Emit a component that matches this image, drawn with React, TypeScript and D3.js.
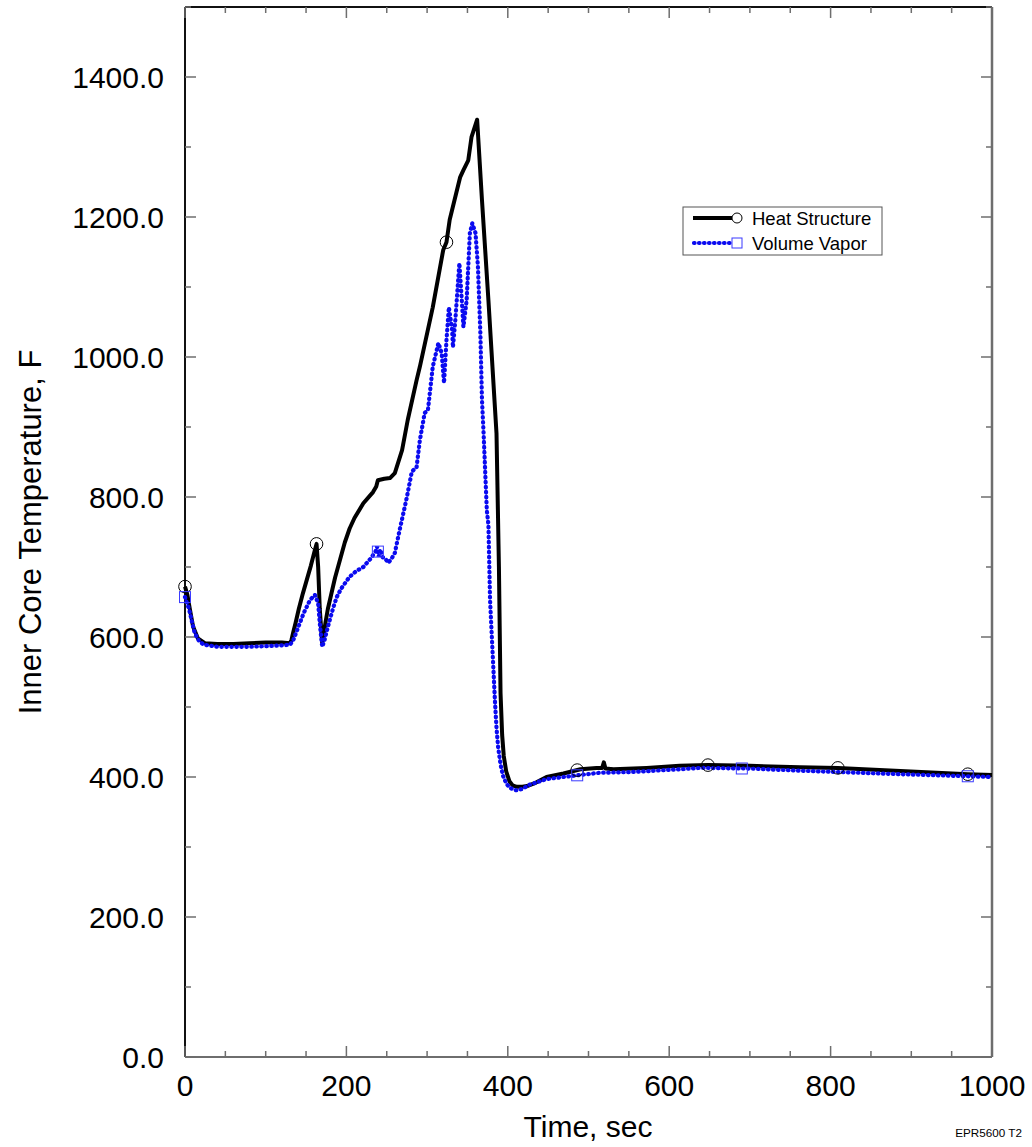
import React from "react";
import * as d3 from "d3";

// ---- Data ----
const heatTime = [0, 3, 6, 10, 16, 25, 40, 60, 80, 100, 120, 130, 132, 134, 137, 141, 146, 151, 156, 160, 163, 165, 167, 170, 172, 174, 177, 181, 186, 192, 198, 204, 210, 221, 233, 237, 239, 247, 254, 260, 269, 276, 287, 291, 307, 320, 324, 328, 341, 345, 351, 355, 362, 368, 376, 386, 389, 391, 393, 395, 398, 402, 406, 411, 418, 424, 435, 448, 469, 490, 510, 517, 519, 521, 531, 572, 613, 648, 700, 762, 809, 880, 970, 1000];
const heatTemp = [672, 660, 640, 615, 598, 591, 590, 590, 591, 592, 592, 591, 596, 606, 620, 640, 662, 682, 702, 720, 733, 700, 640, 591, 605, 620, 640, 660, 685, 710, 735, 755, 770, 791, 807, 815, 824, 826, 827, 834, 867, 910, 967, 986, 1071, 1153, 1164, 1196, 1257, 1267, 1281, 1314, 1339, 1224, 1081, 891, 700, 520, 460, 430, 408, 394, 388, 386, 386, 387, 392, 400, 405, 411, 413, 413, 421, 412, 411, 413, 416, 417, 416, 414, 413, 409, 404, 403];

const vaporTime = [0, 5, 9, 12, 17, 23, 40, 60, 80, 100, 120, 130, 134, 139, 147, 155, 161, 165, 167, 170, 173, 176, 180, 184, 188, 194, 204, 212, 221, 230, 236, 238, 240, 242, 245, 248, 252, 256, 260, 266, 275, 281, 287, 291, 297, 301, 307, 314, 318, 321, 324, 327, 331, 332, 335, 340, 343, 345, 349, 353, 356, 360, 363, 366, 368, 370, 374, 376, 378, 384, 386, 388, 391, 394, 398, 402, 407, 411, 418, 427, 448, 469, 490, 514, 551, 613, 638, 700, 762, 886, 1000];
const vaporTemp = [657, 640, 620, 606, 595, 589, 586, 586, 586, 587, 588, 589, 595, 610, 634, 653, 660, 648, 620, 586, 596, 610, 627, 643, 657, 670, 686, 694, 700, 712, 722, 729, 715, 725, 714, 712, 706, 712, 720, 753, 800, 836, 843, 881, 920, 924, 986, 1020, 1006, 963, 1024, 1071, 1039, 1014, 1053, 1134, 1081, 1043, 1081, 1177, 1191, 1177, 1129, 1034, 939, 891, 781, 760, 653, 510, 470, 443, 418, 402, 391, 385, 382, 381, 383, 389, 397, 400, 403, 406, 407, 411, 413, 412, 409, 404, 400];

const heatMarkerTimes = [0, 163, 324, 486, 648, 809, 970];
const vaporMarkerTimes = [0, 239, 486, 690, 970];

const xTickValues = [0, 200, 400, 600, 800, 1000];
const yTickValues = [0, 200, 400, 600, 800, 1000, 1200, 1400];
const xMinorTicks = d3.range(0, 1001, 50);
const yMinorTicks = d3.range(0, 1501, 100);

const seriesNames = ["Heat Structure", "Volume Vapor"];
const xTitle = "Time, sec";
const yTitle = "Inner Core Temperature, F";
const stamp = "EPR5600 T2";

const W = 1032;
const H = 1147;
const M = { left: 185, right: 992, top: 7, bottom: 1057 };
const FONT = "'Liberation Sans', Arial, Helvetica, sans-serif";

function interp(ts: number[], vs: number[], t: number) {
  const i = d3.bisectRight(ts, t);
  if (i <= 0) return vs[0];
  if (i >= ts.length) return vs[vs.length - 1];
  const t0 = ts[i - 1], t1 = ts[i];
  const f = (t - t0) / (t1 - t0);
  return vs[i - 1] + f * (vs[i] - vs[i - 1]);
}

export default function App() {
  const x = d3.scaleLinear().domain([0, 1000]).range([M.left, M.right]);
  const y = d3.scaleLinear().domain([0, 1500]).range([M.bottom, M.top]);

  const line = d3
    .line<[number, number]>()
    .x((d) => x(d[0]))
    .y((d) => y(d[1]));

  const heatPts: [number, number][] = heatTime.map((t, i) => [t, heatTemp[i]]);
  const vaporPts: [number, number][] = vaporTime.map((t, i) => [t, vaporTemp[i]]);

  const blue = "#0a0af0";
  const axisGray = "#6e6e6e";
  const dash = "0.6 4.4";

  return (
    <svg
      width={W}
      height={H}
      style={{ position: "absolute", left: 0, top: 0, background: "#fff" }}
      fontFamily={FONT}
    >
      <rect x={0} y={0} width={W} height={H} fill="#fff" />
      {/* axes frame */}
      <line x1={M.left} x2={M.right} y1={M.bottom} y2={M.bottom} stroke={axisGray} strokeWidth={2} />
      <line x1={M.right} x2={M.right} y1={M.top} y2={M.bottom} stroke={axisGray} strokeWidth={2.5} />
      <line x1={M.left} x2={M.right} y1={M.top} y2={M.top} stroke="#111" strokeWidth={2} />
      <line x1={M.left} x2={M.left} y1={M.top} y2={M.bottom} stroke="#111" strokeWidth={2} />

      {/* x ticks */}
      {xMinorTicks.map((t) => {
        const major = t % 200 === 0;
        const len = major ? 11 : 6;
        return (
          <g key={"xt" + t}>
            <line x1={x(t)} x2={x(t)} y1={M.bottom} y2={M.bottom - len} stroke={axisGray} strokeWidth={1.5} />
            <line x1={x(t)} x2={x(t)} y1={M.top} y2={M.top + len} stroke={axisGray} strokeWidth={1.5} />
          </g>
        );
      })}
      {/* y ticks */}
      {yMinorTicks.map((v) => {
        const major = v % 200 === 0;
        const len = major ? 11 : 6;
        return (
          <g key={"yt" + v}>
            <line x1={M.left} x2={M.left + len} y1={y(v)} y2={y(v)} stroke={axisGray} strokeWidth={1.5} />
            <line x1={M.right} x2={M.right - len} y1={y(v)} y2={y(v)} stroke={axisGray} strokeWidth={1.5} />
          </g>
        );
      })}

      {/* tick labels */}
      {xTickValues.map((t) => (
        <text key={"xl" + t} x={x(t)} y={1096} textAnchor="middle" fontSize={30} fill="#000">
          {String(t)}
        </text>
      ))}
      {yTickValues.map((v) => (
        <text key={"yl" + v} x={164} y={y(v) + 10.7} textAnchor="end" fontSize={30} fill="#000">
          {v.toFixed(1)}
        </text>
      ))}

      {/* titles */}
      <text x={588} y={1137} textAnchor="middle" fontSize={30} fill="#000">
        {xTitle}
      </text>
      <text
        transform={`translate(41,532) rotate(-90)`}
        textAnchor="middle"
        fontSize={31}
        fill="#000"
      >
        {yTitle}
      </text>
      <text x={1022} y={1137} textAnchor="end" fontSize={11.7} fill="#000">
        {stamp}
      </text>

      {/* series */}
      <path d={line(heatPts) || ""} fill="none" stroke="#000" strokeWidth={4} strokeLinejoin="round" />
      <path
        d={line(vaporPts) || ""}
        fill="none"
        stroke={blue}
        strokeWidth={4.2}
        strokeLinecap="round"
        strokeDasharray={dash}
      />

      {/* markers */}
      {heatMarkerTimes.map((t) => (
        <circle
          key={"hm" + t}
          cx={x(t)}
          cy={y(interp(heatTime, heatTemp, t))}
          r={6.3}
          fill="none"
          stroke="#000"
          strokeWidth={1}
        />
      ))}
      {vaporMarkerTimes.map((t) => (
        <rect
          key={"vm" + t}
          x={x(t) - 5.5}
          y={y(interp(vaporTime, vaporTemp, t)) - 5.5}
          width={11}
          height={11}
          fill="none"
          stroke="#3a3aff"
          strokeWidth={1}
        />
      ))}

      {/* legend */}
      <g>
        <rect x={683} y={207} width={199} height={48} fill="#fff" stroke="#555" strokeWidth={1} />
        <line x1={693} x2={732} y1={218} y2={218} stroke="#000" strokeWidth={4} />
        <circle cx={737} cy={218} r={5} fill="none" stroke="#000" strokeWidth={1} />
        <text x={752} y={224.5} fontSize={18.5} fill="#000">
          {seriesNames[0]}
        </text>
        <line
          x1={694}
          x2={733}
          y1={243}
          y2={243}
          stroke={blue}
          strokeWidth={4.2}
          strokeLinecap="round"
          strokeDasharray={dash}
        />
        <rect x={732} y={238} width={10} height={10} fill="none" stroke="#3a3aff" strokeWidth={1} />
        <text x={752} y={249.5} fontSize={18.5} fill="#000">
          {seriesNames[1]}
        </text>
      </g>
    </svg>
  );
}
